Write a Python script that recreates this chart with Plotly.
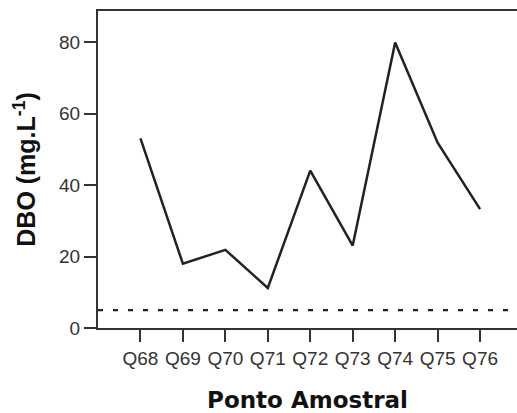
import plotly.graph_objects as go

points = ["Q68", "Q69", "Q70", "Q71", "Q72", "Q73", "Q74", "Q75", "Q76"]
dbo = [53.1, 18.0, 21.9, 11.2, 44.1, 23.1, 80.0, 51.9, 33.3]
limit_value = 5
y_ticks = [0, 20, 40, 60, 80]

idx = list(range(len(points)))

fig = go.Figure()
fig.add_trace(go.Scatter(
    x=[-1, 8.87], y=[limit_value, limit_value], mode="lines",
    line=dict(color="#222222", width=2.2, dash="5px,10px"),
    hoverinfo="skip", showlegend=False, cliponaxis=False))
fig.add_trace(go.Scatter(
    x=idx, y=dbo, mode="lines",
    line=dict(color="#222222", width=2.5),
    showlegend=False))

fig.update_layout(
    width=517, height=413,
    margin=dict(l=97.5, r=0, t=10.7, b=84.7),
    paper_bgcolor="white", plot_bgcolor="white",
    font=dict(family="Liberation Sans, Arial, sans-serif", color="#333333"),
)
fig.update_xaxes(
    range=[-1, 8.87], tickmode="array", tickvals=idx, ticktext=points,
    showline=True, linecolor="#333333", linewidth=2, mirror=True,
    ticks="outside", ticklen=12, tickwidth=2, tickcolor="#333333",
    showgrid=False, zeroline=False,
    tickfont=dict(size=19, color="#333333"),
    title=dict(text="Ponto Amostral", standoff=24,
               font=dict(family="DejaVu Sans", size=23, color="#111111", weight="bold")),
)
fig.update_yaxes(
    range=[0, 88.8], tickmode="array", tickvals=y_ticks,
    showline=True, linecolor="#333333", linewidth=2, mirror=False,
    ticks="outside", ticklen=12, tickwidth=2, tickcolor="#333333",
    showgrid=False, zeroline=False,
    tickfont=dict(size=19, color="#333333"),
    title=dict(text="DBO (mg.L<sup>-1</sup>)", standoff=16,
               font=dict(family="Liberation Sans, Arial", size=25, color="#111111", weight="bold")),
)

fig.write_html("out.html")
